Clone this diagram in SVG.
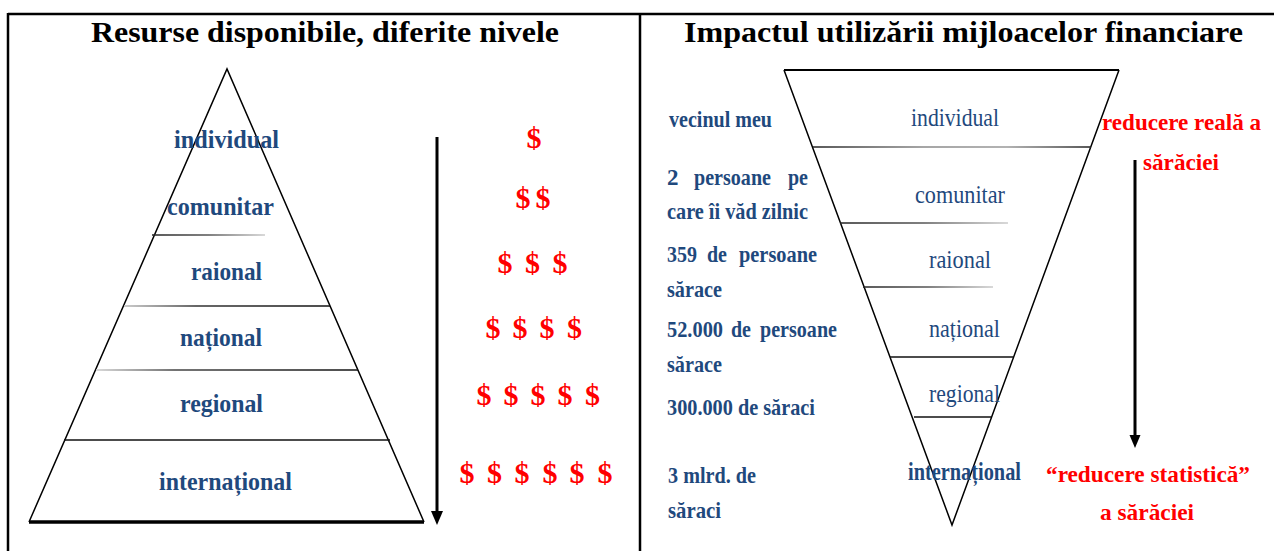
<svg xmlns="http://www.w3.org/2000/svg" width="1274" height="551" viewBox="0 0 1274 551">
<style>
.title{font-family:"Liberation Serif","Times New Roman",serif;font-weight:bold;font-size:29px;fill:#000}
.lbl{font-family:"Liberation Serif","Times New Roman",serif;font-weight:bold;font-size:26px;fill:#1F497D}
.lblr{font-family:"Liberation Serif","Times New Roman",serif;font-weight:normal;font-size:25px;fill:#1F497D}
.lblrb{font-family:"Liberation Serif","Times New Roman",serif;font-weight:bold;font-size:25px;fill:#1F497D}
.col{font-family:"Liberation Serif","Times New Roman",serif;font-weight:bold;font-size:23px;fill:#1F497D}
.red{font-family:"Liberation Serif","Times New Roman",serif;font-weight:bold;font-size:24px;fill:#FF0000}
.dol{font-family:"Liberation Serif","Times New Roman",serif;font-weight:bold;font-size:30px;fill:#FF0000}
.edge{stroke:#000;stroke-width:1.5;fill:none}
.frame{stroke:#000;stroke-width:2.5;fill:none}
</style>
<defs>
<linearGradient id="gA" gradientUnits="userSpaceOnUse" x1="152" y1="0" x2="265" y2="0"><stop offset="0" stop-color="#222"/><stop offset="0.5" stop-color="#555"/><stop offset="1" stop-color="#ccc"/></linearGradient>
<linearGradient id="gB" gradientUnits="userSpaceOnUse" x1="124" y1="0" x2="330" y2="0"><stop offset="0" stop-color="#bbb"/><stop offset="0.35" stop-color="#333"/><stop offset="1" stop-color="#111"/></linearGradient>
<linearGradient id="gC" gradientUnits="userSpaceOnUse" x1="96" y1="0" x2="358" y2="0"><stop offset="0" stop-color="#ccc"/><stop offset="0.3" stop-color="#444"/><stop offset="1" stop-color="#111"/></linearGradient>
<linearGradient id="gD" gradientUnits="userSpaceOnUse" x1="813" y1="0" x2="1090" y2="0"><stop offset="0" stop-color="#222"/><stop offset="0.4" stop-color="#888"/><stop offset="0.7" stop-color="#999"/><stop offset="1" stop-color="#222"/></linearGradient>
<linearGradient id="gE" gradientUnits="userSpaceOnUse" x1="840" y1="0" x2="1008" y2="0"><stop offset="0" stop-color="#222"/><stop offset="0.5" stop-color="#555"/><stop offset="1" stop-color="#ccc"/></linearGradient>
<linearGradient id="gF" gradientUnits="userSpaceOnUse" x1="862" y1="0" x2="993" y2="0"><stop offset="0" stop-color="#222"/><stop offset="0.5" stop-color="#555"/><stop offset="1" stop-color="#ccc"/></linearGradient>
</defs>
<rect x="0" y="0" width="1274" height="551" fill="#fff"/>

<g id="frame">
<line class="frame" x1="8" y1="14" x2="1274" y2="14"/>
<line class="frame" x1="8" y1="13" x2="8" y2="551"/>
<line class="frame" x1="640" y1="13" x2="640" y2="551"/>
</g>

<g id="title-left"><text class="title" x="91" y="42" textLength="468" lengthAdjust="spacingAndGlyphs">Resurse disponibile, diferite nivele</text></g>
<g id="title-right"><text class="title" x="684" y="42" textLength="559" lengthAdjust="spacingAndGlyphs">Impactul utilizării mijloacelor financiare</text></g>

<g id="pyramid">
<path class="edge" d="M29,522 L227,69 L424,522"/>
<line x1="29" y1="522" x2="424" y2="522" stroke="#000" stroke-width="3.5"/>
<line x1="152" y1="235" x2="265" y2="235" stroke="url(#gA)" stroke-width="1.3"/>
<line x1="124" y1="306" x2="330" y2="306" stroke="url(#gB)" stroke-width="1.3"/>
<line x1="96" y1="370" x2="358" y2="370" stroke="url(#gC)" stroke-width="1.3"/>
<line x1="64" y1="440" x2="390" y2="440" stroke="#111" stroke-width="1.3"/>
</g>
<g id="L-individual"><text class="lbl" x="174" y="148" textLength="105" lengthAdjust="spacingAndGlyphs">individual</text></g>
<g id="L-comunitar"><text class="lbl" x="167" y="215" textLength="107" lengthAdjust="spacingAndGlyphs">comunitar</text></g>
<g id="L-raional"><text class="lbl" x="191" y="280" textLength="71" lengthAdjust="spacingAndGlyphs">raional</text></g>
<g id="L-national"><text class="lbl" x="180" y="346" textLength="82" lengthAdjust="spacingAndGlyphs">național</text></g>
<g id="L-regional"><text class="lbl" x="180" y="412" textLength="83" lengthAdjust="spacingAndGlyphs">regional</text></g>
<g id="L-international"><text class="lbl" x="159" y="490" textLength="133" lengthAdjust="spacingAndGlyphs">internațional</text></g>

<g id="dollars" text-anchor="middle">
<text class="dol" x="534" y="148">$</text>
<text class="dol" x="523 543" y="208">$$</text>
<text class="dol" x="505 532.5 560" y="273">$$$</text>
<text class="dol" x="493 520 547 574.5" y="338">$$$$</text>
<text class="dol" x="484 511 538 565 592.5" y="405">$$$$$</text>
<text class="dol" x="467 494.5 522 550 577 605" y="483">$$$$$$</text>
</g>

<g id="connectors">
<line x1="437" y1="137" x2="437" y2="513" stroke="#000" stroke-width="3"/>
<polygon points="431,511 443,511 437,525" fill="#000"/>
<line x1="1135" y1="160" x2="1135" y2="437" stroke="#000" stroke-width="3"/>
<polygon points="1129.5,435 1140.5,435 1135,448" fill="#000"/>
</g>

<g id="funnel">
<path class="edge" d="M784,70 L952,525 L1119,70"/>
<line x1="784" y1="70" x2="1119" y2="70" stroke="#000" stroke-width="2.2"/>
<line x1="813" y1="147" x2="1091" y2="147" stroke="url(#gD)" stroke-width="1.3"/>
<line x1="840" y1="223" x2="1008" y2="223" stroke="url(#gE)" stroke-width="1.3"/>
<line x1="863" y1="287" x2="993" y2="287" stroke="url(#gF)" stroke-width="1.3"/>
<line x1="890" y1="357" x2="1013" y2="357" stroke="#111" stroke-width="1.3"/>
<line x1="914" y1="417" x2="991" y2="417" stroke="#111" stroke-width="1.3"/>
</g>
<g id="R-individual"><text class="lblr" x="911" y="126" textLength="88" lengthAdjust="spacingAndGlyphs">individual</text></g>
<g id="R-comunitar"><text class="lblr" x="915" y="203" textLength="90" lengthAdjust="spacingAndGlyphs">comunitar</text></g>
<g id="R-raional"><text class="lblr" x="929" y="268" textLength="62" lengthAdjust="spacingAndGlyphs">raional</text></g>
<g id="R-national"><text class="lblr" x="929" y="337" textLength="71" lengthAdjust="spacingAndGlyphs">național</text></g>
<g id="R-regional"><text class="lblr" x="929" y="402" textLength="71" lengthAdjust="spacingAndGlyphs">regional</text></g>
<g id="R-international"><text class="lblrb" x="908" y="480" textLength="113" lengthAdjust="spacingAndGlyphs">internațional</text></g>

<g id="scale-left">
<text class="col" x="669" y="127" textLength="103" lengthAdjust="spacingAndGlyphs">vecinul meu</text>
<text class="col" y="185"><tspan x="667">2</tspan><tspan x="694" textLength="77" lengthAdjust="spacingAndGlyphs">persoane</tspan><tspan x="788" textLength="20" lengthAdjust="spacingAndGlyphs">pe</tspan></text>
<text class="col" x="667" y="219" textLength="141" lengthAdjust="spacingAndGlyphs">care îi văd zilnic</text>
<text class="col" y="262"><tspan x="667" textLength="30" lengthAdjust="spacingAndGlyphs">359</tspan><tspan x="707" textLength="20" lengthAdjust="spacingAndGlyphs">de</tspan><tspan x="739" textLength="78" lengthAdjust="spacingAndGlyphs">persoane</tspan></text>
<text class="col" x="667" y="297" textLength="55" lengthAdjust="spacingAndGlyphs">sărace</text>
<text class="col" y="337"><tspan x="667" textLength="56" lengthAdjust="spacingAndGlyphs">52.000</tspan><tspan x="731" textLength="20" lengthAdjust="spacingAndGlyphs">de</tspan><tspan x="760" textLength="77" lengthAdjust="spacingAndGlyphs">persoane</tspan></text>
<text class="col" x="667" y="372" textLength="55" lengthAdjust="spacingAndGlyphs">sărace</text>
<text class="col" x="667" y="415" textLength="148" lengthAdjust="spacingAndGlyphs">300.000 de săraci</text>
<text class="col" x="668" y="483" textLength="88" lengthAdjust="spacingAndGlyphs">3 mlrd. de</text>
<text class="col" x="668" y="518" textLength="53" lengthAdjust="spacingAndGlyphs">săraci</text>
</g>

<g id="real-reduction">
<text class="red" x="1102" y="130" textLength="159" lengthAdjust="spacingAndGlyphs">reducere reală a</text>
<text class="red" x="1143" y="170" textLength="76" lengthAdjust="spacingAndGlyphs">sărăciei</text>
</g>
<g id="statistical-reduction">
<text class="red" x="1046" y="482" textLength="204" lengthAdjust="spacingAndGlyphs">“reducere statistică”</text>
<text class="red" x="1100" y="520" textLength="94" lengthAdjust="spacingAndGlyphs">a sărăciei</text>
</g>
</svg>
